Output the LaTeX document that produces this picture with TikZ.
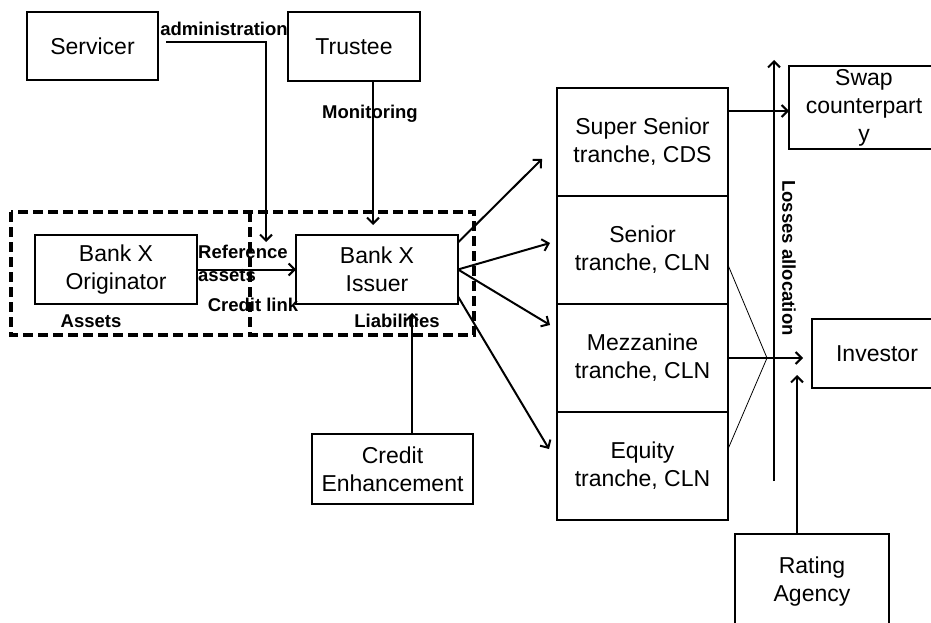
\documentclass[tikz,border=0pt]{standalone}
\usepackage{fontspec}
\setmainfont{Liberation Sans}
\usetikzlibrary{positioning, calc, arrows.meta}
\tikzset{
    boxnode/.style={rectangle, draw, line width=2pt, align=center, font=\fontsize{23}{28}\selectfont, inner sep=0pt, outer sep=0pt},
    tranche/.style={boxnode, minimum width=171pt, minimum height=108pt},
    lbl/.style={font=\bfseries\fontsize{18.5}{23}\selectfont, inner sep=0pt},
    arrow/.style={-{Straight Barb[length=6pt, width=12pt]}, line width=2pt},
    thinline/.style={line width=0.8pt},
    dashbox/.style={dash pattern=on 10pt off 5pt, line width=3.2pt},
}

\begin{document}
\begin{tikzpicture}[x=1pt, y=-1pt]
    \useasboundingbox (0,0) rectangle (931,623);
    \clip (0,0) rectangle (931,623);

    % Bilancio: attivo | passivo
    \draw[dashbox] (11,212) rectangle (474,335);
    \draw[dashbox] (250,212) -- (250,335);

    % Soggetti
    \node[boxnode, minimum width=131pt, minimum height=68pt] (servicer) at (92.5,46) {Servicer};
    \node[boxnode, minimum width=132pt, minimum height=69pt] (trustee) at (354,46.5) {Trustee};
    \node[boxnode, minimum width=162pt, minimum height=69pt] (orig) at (116,269.5) {Bank X\\Originator};
    \node[boxnode, minimum width=162pt, minimum height=69pt] (issuer) at (377,269.5) {Bank X\\Issuer};
    \node[boxnode, minimum width=161pt, minimum height=70pt] (enh) at (392.5,469) {Credit\\Enhancement};

    % Tranche
    \node[tranche] (ss) at (642.5,142) {Super Senior\\tranche, CDS};
    \node[tranche, below=0pt of ss] (sen) {Senior\\tranche, CLN};
    \node[tranche, below=0pt of sen] (mez) {Mezzanine\\tranche, CLN};
    \node[tranche, below=0pt of mez] (eq) {Equity\\tranche, CLN};

    % Controparti
    \node[boxnode, minimum width=150pt, minimum height=83pt] (swap) at (864,107.5) {Swap\\counterpart\\y};
    \node[boxnode, minimum width=130pt, minimum height=69pt] (inv) at (877,353.5) {Investor};
    \node[boxnode, minimum width=154pt, minimum height=96pt] (rating) at (812,582) {Rating\\Agency};

    % Etichette
    \node[lbl] (admlbl) at (224,29) {administration};
    \node[lbl] (monlbl) at (370,114) {Monitoring};
    \node[lbl, align=left, anchor=west] (reflbl) at (198,263) {Reference\\assets};
    \node[lbl] (linklbl) at (253,305) {Credit link};
    \node[lbl] (astlbl) at (91,321) {Assets};
    \node[lbl] (liablbl) at (397,321) {Liabilities};
    \node[lbl, rotate=-90] (losslbl) at (789,258) {Losses allocation};

    % Punti liberi
    \coordinate (admend) at (266,242);
    \coordinate (losstop) at (774,60);
    \coordinate (lossbot) at (774,481);
    \coordinate (fan) at (767,358);

    % Collegamenti
    \draw[arrow] ([xshift=8pt, yshift=4pt]servicer.east) -| (admend);
    \draw[arrow, shorten >=10pt] ([xshift=19pt]trustee.south) -- ([xshift=19pt]trustee.south |- issuer.north);
    \draw[arrow] (orig) -- (issuer);
    \draw[arrow, shorten >=9pt] ([xshift=19.5pt]enh.north) -- ([xshift=19.5pt]enh.north |- issuer.south);

    \draw[arrow] ([yshift=27pt]issuer.east) -- ([xshift=-15pt, yshift=-17pt]ss.west);
    \draw[arrow] (issuer.east) -- ([xshift=-7pt, yshift=7pt]sen.west);
    \draw[arrow] (issuer.east) -- ([xshift=-7pt, yshift=33pt]mez.west);
    \draw[arrow] ([yshift=-27pt]issuer.east) -- ([xshift=-8pt, yshift=17pt]eq.west);

    \draw[arrow] ([yshift=31pt]ss.east) -- ([yshift=31pt]ss.east -| swap.west);
    \draw[arrow] (lossbot) -- (losstop);
    \draw[arrow, shorten >=9pt] (mez.east) -- (mez.east -| inv.west);
    \draw[thinline] ([yshift=-15pt]sen.east) -- (fan) -- ([yshift=17pt]eq.east);
    \draw[arrow] ([xshift=-15pt]rating.north) -- ++(0,-159);
\end{tikzpicture}
\end{document}
